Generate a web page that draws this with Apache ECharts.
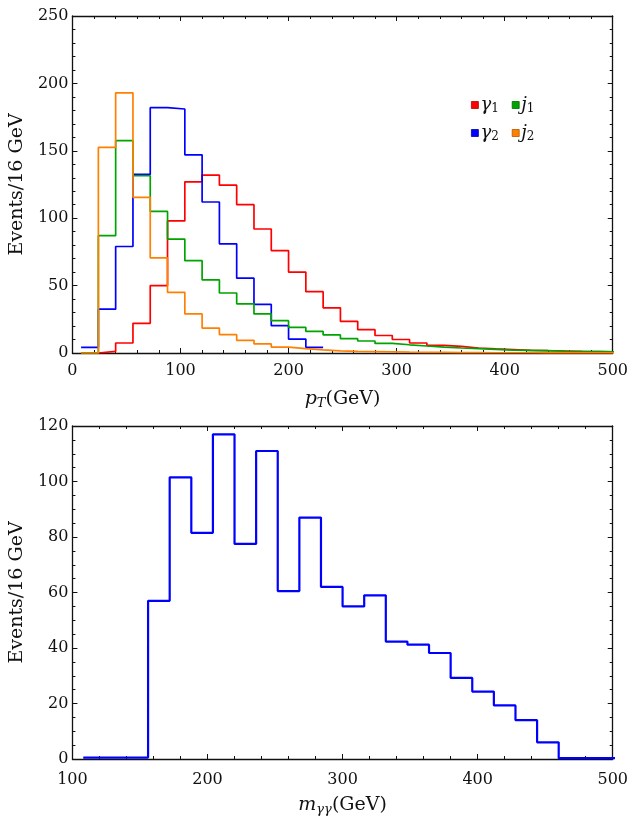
<!DOCTYPE html>
<html>
<head>
<meta charset="utf-8">
<script src="https://cdn.jsdelivr.net/npm/echarts@6/dist/echarts.min.js"></script>
<style>
  html, body { margin: 0; padding: 0; background: #ffffff; }
  #chart { width: 631px; height: 817px; }
</style>
</head>
<body>
<div id="chart"></div>
<script>
// Transverse-momentum histogram: bin edges (GeV), 16 GeV bins
const ptEdges = [8, 24, 40, 56, 72, 88, 104, 120, 136, 152, 168, 184, 200, 216, 232, 248,
  264, 280, 296, 312, 328, 344, 360, 376, 392, 408, 424, 440, 456, 472, 488, 504];

// Events per bin for each object
const gamma1 = [0, 1.2, 7.4, 22, 50, 98, 127, 132, 124.5, 110, 92, 76, 60, 45.5, 33.5, 23.5,
  17.3, 13, 10, 7.4, 5.7, 4.9, 3.7, 3, 2.5, 2, 1.7, 1.5, 1.2, 1, 0.8];
const gamma2 = [4.2, 32.5, 79, 132.5, 182, 181, 147, 112, 81, 55.5, 36, 20.3, 10.3, 4.2];
const jet1 = [0, 87, 157.5, 131.5, 105, 84.5, 68.5, 54.3, 44.5, 36.5, 29, 24, 19, 16, 13.4, 10.6,
  8.9, 7.1, 6.1, 5.2, 4.4, 3.7, 3.2, 2.7, 2.2, 2, 1.7, 1.3, 1.1, 1, 0.8];
const jet2 = [0, 152.5, 193, 115.5, 70.5, 45, 29, 18.5, 13.6, 9.4, 6.7, 4.4, 3.2, 2.3, 1.6, 1.2,
  1, 0.8, 0.6, 0.5, 0.4, 0.3, 0.3, 0.2, 0.2, 0.2, 0.1, 0.1, 0.1, 0.1, 0.1];

// Diphoton invariant-mass histogram
const massEdges = [108, 124, 140, 156, 172, 188, 204, 220, 236, 252, 268, 284, 300, 316, 332,
  348, 364, 380, 396, 412, 428, 444, 460, 476, 492, 508];
const massCounts = [0.5, 0.5, 0.5, 57, 101.5, 81.5, 117, 77.5, 111, 60.5, 87, 62, 55, 59, 42.3,
  41.2, 38.2, 29.2, 24.3, 19.3, 14, 6, 0.3, 0.3, 0.3];

// Axis tick values
const ptTicks = [0, 100, 200, 300, 400, 500];
const ptCountTicks = [0, 50, 100, 150, 200, 250];
const massTicks = [100, 200, 300, 400, 500];
const massCountTicks = [0, 20, 40, 60, 80, 100, 120];

const seriesNames = ['γ1', 'γ2', 'j1', 'j2'];
const seriesColors = ['#ff0000', '#0000ff', '#00a400', '#ff8000'];
const legendBorders = ['#b00000', '#0000a0', '#006a00', '#b05800'];

const FONT = 'DejaVu Serif';

// Turn bin edges + contents into points for a step outline
function histPoints(edges, counts) {
  const pts = counts.map((c, i) => [edges[i], c]);
  pts.push([edges[counts.length], counts[counts.length - 1]]);
  return pts;
}

const mathRich = {
  n: { fontFamily: FONT, fontSize: 19, color: '#111' },
  i: { fontFamily: FONT, fontStyle: 'italic', fontSize: 19, color: '#111' },
  s: { fontFamily: FONT, fontStyle: 'italic', fontSize: 13, color: '#111', padding: [9, 0, 0, 0] }
};

function frameAxes(gridIndex, xMin, xMax, xInt, xMinor, yMin, yMax, yInt, yMinor, xLabelMargin) {
  const tick = { show: true, inside: true, length: 5, lineStyle: { color: '#111', width: 1 } };
  const minor = { show: true, splitNumber: 0, length: 3, lineStyle: { color: '#111', width: 1 } };
  const line = { show: true, onZero: false, lineStyle: { color: '#111', width: 1.3 } };
  const lbl = { fontFamily: FONT, fontSize: 16, color: '#111' };
  const xs = [
    { type: 'value', gridIndex, min: xMin, max: xMax, interval: xInt, position: 'bottom',
      axisLine: line, axisTick: tick, minorTick: Object.assign({}, minor, { splitNumber: xMinor }),
      splitLine: { show: false }, axisLabel: Object.assign({ margin: xLabelMargin }, lbl) },
    { type: 'value', gridIndex, min: xMin, max: xMax, interval: xInt, position: 'top',
      axisLine: line, axisTick: tick, minorTick: Object.assign({}, minor, { splitNumber: xMinor }),
      splitLine: { show: false }, axisLabel: { show: false } }
  ];
  const ys = [
    { type: 'value', gridIndex, min: yMin, max: yMax, interval: yInt, position: 'left',
      axisLine: line, axisTick: tick, minorTick: Object.assign({}, minor, { splitNumber: yMinor }),
      splitLine: { show: false }, axisLabel: Object.assign({ margin: 4 }, lbl) },
    { type: 'value', gridIndex, min: yMin, max: yMax, interval: yInt, position: 'right',
      axisLine: line, axisTick: tick, minorTick: Object.assign({}, minor, { splitNumber: yMinor }),
      splitLine: { show: false }, axisLabel: { show: false } }
  ];
  return { xs, ys };
}

const ptAxes = frameAxes(0, ptTicks[0], ptTicks[ptTicks.length - 1], 100, 5,
  ptCountTicks[0], ptCountTicks[ptCountTicks.length - 1], 50, 5, 10);
const massAxes = frameAxes(1, massTicks[0], massTicks[massTicks.length - 1], 100, 5,
  massCountTicks[0], massCountTicks[massCountTicks.length - 1], 20, 4, 13);

ptAxes.xs[0].name = '{i|p}{s|T}{n|(GeV)}';
massAxes.xs[0].name = '{i|m}{s|γγ}{n|(GeV)}';
[ptAxes.xs[0], massAxes.xs[0]].forEach(a => {
  a.nameLocation = 'middle';
  a.nameGap = 35;
  a.nameTextStyle = { rich: mathRich };
});
[ptAxes.ys[0], massAxes.ys[0]].forEach(a => {
  a.name = 'Events/16 GeV';
  a.nameLocation = 'middle';
  a.nameGap = 42;
  a.nameTextStyle = { fontFamily: FONT, fontSize: 19, color: '#111' };
});

const ptSeriesData = [gamma1, gamma2, jet1, jet2];
const ptSeries = ptSeriesData.map((vals, k) => ({
  name: seriesNames[k],
  type: 'line',
  step: 'end',
  xAxisIndex: 0,
  yAxisIndex: 0,
  symbol: 'none',
  color: seriesColors[k],
  lineStyle: { color: seriesColors[k], width: 1.7 },
  data: histPoints(ptEdges, vals),
  z: 2 + k
}));

const massSeries = {
  name: 'mgg',
  type: 'line',
  step: 'end',
  xAxisIndex: 2,
  yAxisIndex: 2,
  symbol: 'none',
  color: '#0000ff',
  lineStyle: { color: '#0000ff', width: 2.2 },
  data: histPoints(massEdges, massCounts)
};

const legendRich = {
  g: { fontFamily: FONT, fontStyle: 'italic', fontSize: 18, color: '#111' },
  s: { fontFamily: FONT, fontSize: 12, color: '#111', padding: [8, 0, 0, 0] }
};
function legendBlock(names, topPos) {
  return {
    show: true,
    left: 471,
    top: topPos,
    orient: 'horizontal',
    icon: 'rect',
    itemWidth: 7,
    itemHeight: 7,
    itemGap: 13,
    selectedMode: false,
    padding: 0,
    textStyle: { rich: legendRich, padding: [0, 0, 0, -3] },
    formatter: name => '{g|' + (name[0] === 'γ' ? 'γ' : 'j') + '}{s|' + name.slice(1) + '}',
    data: names.map(n => ({
      name: n,
      itemStyle: { borderColor: legendBorders[seriesNames.indexOf(n)], borderWidth: 0.8 }
    }))
  };
}

const chart = echarts.init(document.getElementById('chart'), null, { renderer: 'canvas' });
chart.setOption({
  animation: false,
  backgroundColor: '#ffffff',
  grid: [
    { left: 71, top: 16, width: 544, height: 337 },
    { left: 71, top: 426, width: 544, height: 336 }
  ],
  xAxis: ptAxes.xs.concat(massAxes.xs),
  yAxis: ptAxes.ys.concat(massAxes.ys),
  legend: [legendBlock(['γ1', 'j1'], 96), legendBlock(['γ2', 'j2'], 124)],
  series: ptSeries.concat([massSeries])
});
</script>
</body>
</html>
